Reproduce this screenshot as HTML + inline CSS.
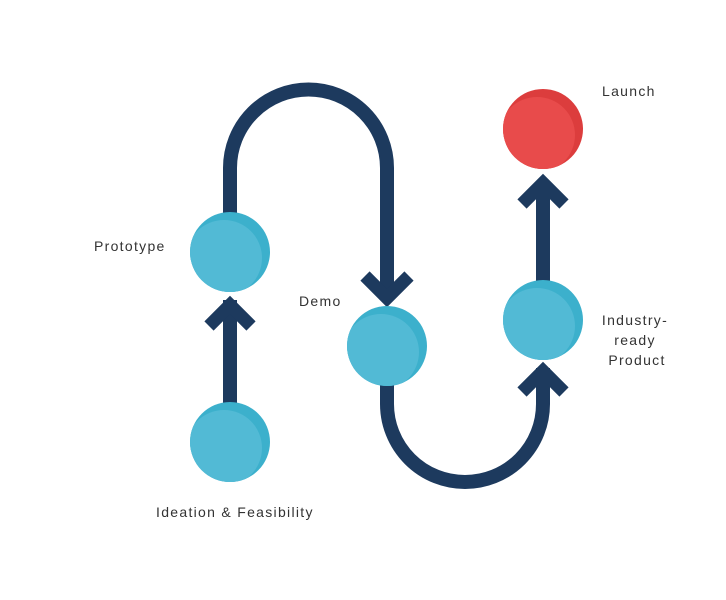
<!DOCTYPE html>
<html><head><style>body{margin:0;background:#fff}svg{display:block}text{font-family:"Liberation Sans",sans-serif;font-size:14px;fill:#333;letter-spacing:1.3px}</style></head>
<body>
<svg width="726" height="600" viewBox="0 0 726 600">
<defs>
<clipPath id="cb"><circle cx="0" cy="0" r="40"/></clipPath>
</defs>
<g fill="none" stroke="#1d3a5e" stroke-width="14">
<path d="M230 215 V168 A78.5 78.5 0 0 1 387 168 V296"/>
<path d="M365 276 L387 298 L409 276" stroke-width="13"/>
<path d="M230 404 V300"/>
<path d="M209 326 L230 305 L251 326" stroke-width="13"/>
<path d="M387 384 V404 A78 78 0 0 0 543 404 V368"/>
<path d="M522 392 L543 371 L564 392" stroke-width="13"/>
<path d="M543 282 V182"/>
<path d="M522 204 L543 183 L564 204" stroke-width="13"/>
</g>
<g transform="translate(230,252)"><circle r="40" fill="#3cb0cc"/><circle cx="-6" cy="6" r="38" fill="#52bad5" clip-path="url(#cb)"/></g>
<g transform="translate(230,442)"><circle r="40" fill="#3cb0cc"/><circle cx="-6" cy="6" r="38" fill="#52bad5" clip-path="url(#cb)"/></g>
<g transform="translate(387,346)"><circle r="40" fill="#3cb0cc"/><circle cx="-6" cy="6" r="38" fill="#52bad5" clip-path="url(#cb)"/></g>
<g transform="translate(543,320)"><circle r="40" fill="#3cb0cc"/><circle cx="-6" cy="6" r="38" fill="#52bad5" clip-path="url(#cb)"/></g>
<g transform="translate(543,129)"><circle r="40" fill="#dc3d3d"/><circle cx="-6" cy="6" r="38" fill="#e84b4b" clip-path="url(#cb)"/></g>
<text x="602" y="96">Launch</text>
<text x="94" y="251">Prototype</text>
<text x="299" y="306">Demo</text>
<text x="635" y="325" text-anchor="middle">Industry-</text>
<text x="635" y="345" text-anchor="middle">ready</text>
<text x="637" y="365" text-anchor="middle">Product</text>
<text x="156" y="517">Ideation &amp; Feasibility</text>
</svg>
</body></html>
